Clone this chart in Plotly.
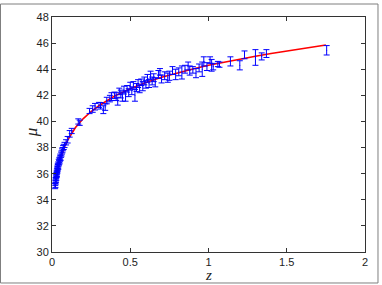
import plotly.graph_objects as go

# Data points (redshift, distance modulus, error)
z_data = [0.020, 0.021, 0.022, 0.023, 0.024, 0.025, 0.026, 0.027, 0.028, 0.029,
          0.030, 0.031, 0.032, 0.033, 0.034, 0.035, 0.036, 0.037, 0.038, 0.040,
          0.041, 0.043, 0.045, 0.047, 0.049, 0.051, 0.053, 0.055, 0.058, 0.061,
          0.064, 0.067, 0.071, 0.075, 0.080,
          0.09, 0.10, 0.113, 0.126, 0.168, 0.177, 0.24, 0.26, 0.275, 0.30,
          0.31, 0.328, 0.34, 0.35, 0.37, 0.38,
          0.40, 0.41, 0.42, 0.43, 0.44, 0.45, 0.46, 0.47, 0.48, 0.49,
          0.50, 0.51, 0.52, 0.53, 0.54, 0.55, 0.56, 0.57, 0.58, 0.59,
          0.60, 0.61, 0.62, 0.63, 0.64, 0.65, 0.66, 0.68, 0.69, 0.70,
          0.72, 0.74, 0.75, 0.77, 0.79, 0.81, 0.83, 0.85, 0.87, 0.88,
          0.90, 0.92, 0.94, 0.96, 0.97, 0.99, 1.01, 1.02, 1.03, 1.06,
          1.07, 1.14, 1.20, 1.23, 1.30, 1.34, 1.37, 1.755]
mu_data = [35.05, 35.30, 35.15, 35.50, 35.40, 35.70, 35.55, 35.85, 35.70, 36.00,
           35.90, 36.15, 36.00, 36.30, 36.20, 36.45, 36.35, 36.60, 36.50, 36.70,
           36.55, 36.90, 36.80, 37.05, 36.95, 37.15, 37.30, 37.20, 37.45, 37.55,
           37.70, 37.80, 37.95, 38.05, 38.20,
           38.40, 38.60, 39.05, 39.27, 40.00, 39.90, 40.80, 40.95, 41.13, 41.26,
           41.20, 40.90, 41.10, 41.60, 41.75, 41.90,
           42.00, 41.90, 41.55, 42.30, 42.10, 41.90, 42.40, 41.95, 42.50, 42.20,
           42.70, 42.35, 42.80, 42.00, 42.60, 42.90, 42.50, 43.00, 42.70, 43.10,
           42.85, 43.30, 42.90, 43.55, 43.10, 43.35, 43.00, 43.60, 43.80, 43.25,
           43.50, 43.35, 43.50, 43.90, 43.60, 43.80, 43.75, 44.00, 44.25, 43.90,
           43.95, 43.70, 44.10, 44.00, 44.60, 44.20, 44.70, 44.30, 44.20, 44.40,
           44.35, 44.60, 44.30, 45.10, 44.90, 44.98, 45.20, 45.45]
err_data = [0.20, 0.20, 0.20, 0.20, 0.20, 0.20, 0.20, 0.20, 0.20, 0.20,
            0.20, 0.20, 0.20, 0.20, 0.20, 0.20, 0.20, 0.20, 0.20, 0.20,
            0.20, 0.20, 0.20, 0.20, 0.20, 0.20, 0.20, 0.20, 0.20, 0.20,
            0.20, 0.20, 0.20, 0.20, 0.20,
            0.20, 0.25, 0.25, 0.20, 0.20, 0.20, 0.20, 0.25, 0.25, 0.20,
            0.25, 0.30, 0.25, 0.25, 0.25, 0.30,
            0.25, 0.30, 0.30, 0.25, 0.30, 0.35, 0.30, 0.40, 0.25, 0.30,
            0.30, 0.30, 0.25, 0.45, 0.30, 0.30, 0.30, 0.25, 0.35, 0.30,
            0.30, 0.30, 0.30, 0.30, 0.30, 0.30, 0.35, 0.30, 0.25, 0.30,
            0.30, 0.35, 0.35, 0.30, 0.40, 0.30, 0.50, 0.30, 0.30, 0.35,
            0.25, 0.35, 0.30, 0.55, 0.35, 0.30, 0.25, 0.45, 0.25, 0.20,
            0.20, 0.35, 0.35, 0.30, 0.60, 0.27, 0.30, 0.36]

# Model curve
z_model = [0.02, 0.03, 0.04, 0.05, 0.06, 0.08, 0.10, 0.125, 0.15, 0.2,
           0.25, 0.3, 0.35, 0.4, 0.5, 0.6, 0.7, 0.8, 0.9, 1.0,
           1.1, 1.2, 1.3, 1.4, 1.5, 1.6, 1.7, 1.75]
mu_model = [35.0, 35.85, 36.5, 37.0, 37.4, 38.05, 38.57, 39.1, 39.53, 40.22,
            40.76, 41.2, 41.6, 41.95, 42.5, 42.98, 43.38, 43.72, 44.02, 44.3,
            44.55, 44.78, 45.0, 45.2, 45.4, 45.58, 45.76, 45.85]

x_ticks = [0, 0.5, 1, 1.5, 2]
x_tick_labels = ["0", "0.5", "1", "1.5", "2"]
y_ticks = [30, 32, 34, 36, 38, 40, 42, 44, 46, 48]

fig = go.Figure()
fig.add_trace(go.Scatter(
    x=z_model, y=mu_model, mode="lines",
    line=dict(color="#FF0000", width=1.6), showlegend=False, hoverinfo="skip"))
fig.add_trace(go.Scatter(
    x=z_data, y=mu_data, mode="markers",
    marker=dict(size=1, color="#0000FF"),
    error_y=dict(type="data", array=err_data, visible=True,
                 color="#0000FF", thickness=1, width=3),
    showlegend=False))

axis_common = dict(showgrid=False, zeroline=False, showline=True,
                   linecolor="#333333", linewidth=1, mirror="allticks",
                   ticks="inside", ticklen=4, tickcolor="#333333",
                   tickfont=dict(family="Liberation Sans, Arial", size=11, color="#222222"))

fig.update_layout(
    width=382, height=285,
    margin=dict(l=52, r=17, t=17, b=33),
    paper_bgcolor="white", plot_bgcolor="white",
    xaxis=dict(range=[0, 2], tickvals=x_ticks, ticktext=x_tick_labels, **axis_common),
    yaxis=dict(range=[30, 48], tickvals=y_ticks, **axis_common),
    annotations=[
        dict(text="<i>z</i>", xref="paper", yref="paper", x=0.5, y=-0.098,
             xanchor="center", yanchor="middle", showarrow=False,
             font=dict(family="Liberation Serif, Times New Roman", size=15, color="#222222")),
        dict(text="<i>μ</i>", xref="paper", yref="paper", x=-0.067, y=0.51,
             xanchor="center", yanchor="middle", showarrow=False, textangle=-90,
             font=dict(family="Liberation Serif, Times New Roman", size=17, color="#222222")),
    ],
    shapes=[
        dict(type="rect", xref="paper", yref="paper",
             x0=-0.1645, x1=1.0415, y0=-0.1319, y1=1.0553,
             line=dict(color="#7f7f7f", width=1), fillcolor="rgba(0,0,0,0)", layer="below"),
    ],
)

fig.write_html("out.html")
